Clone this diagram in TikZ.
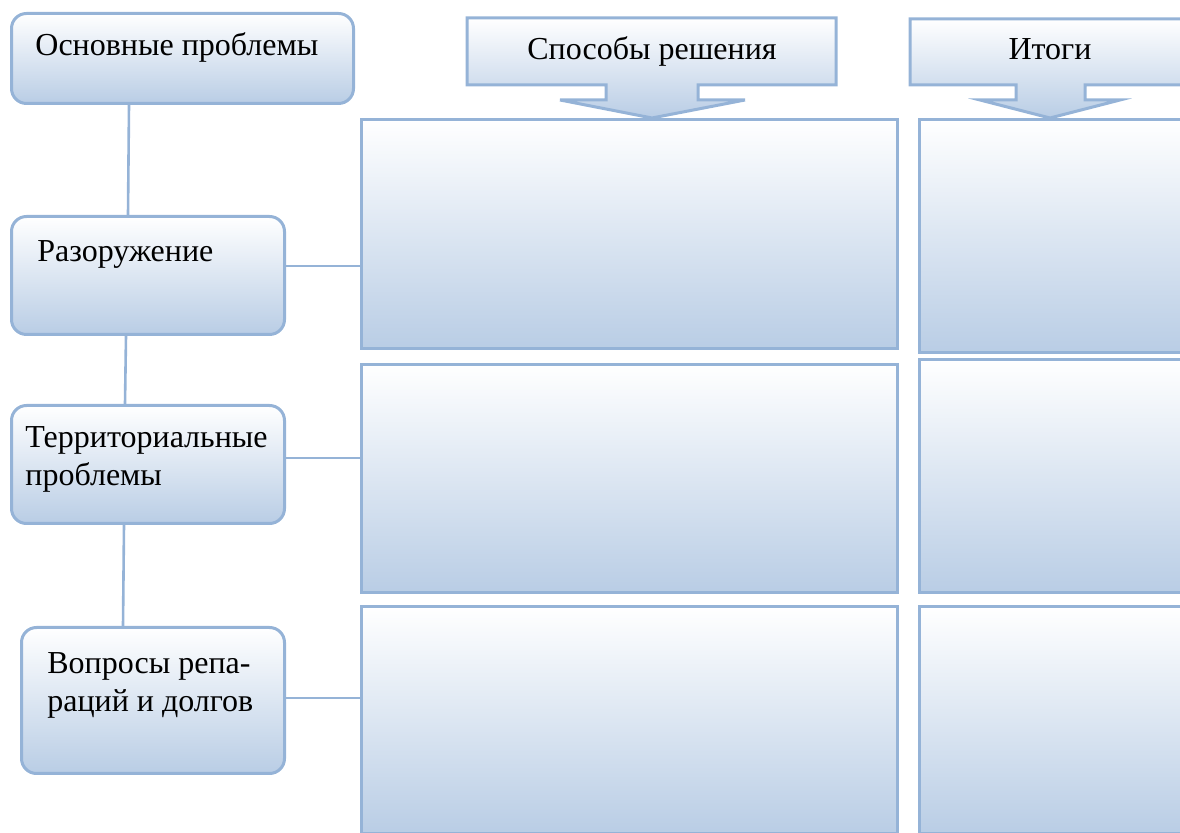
\documentclass[tikz,border=0pt]{standalone}
\usepackage{fontspec}
\setmainfont{Liberation Serif}

\definecolor{boxline}{HTML}{95B3D7}
\definecolor{boxfill}{HTML}{B9CDE5}

\begin{document}
\begin{tikzpicture}[x=0.5pt, y=-0.5pt,
    shadebox/.style={draw=boxline, line width=1.5pt, top color=white, bottom color=boxfill},
    box/.style={shadebox, rounded corners=7.5pt, anchor=north west, inner sep=0pt},
    cell/.style={shadebox, anchor=north west, inner sep=0pt},
    link/.style={draw=boxline, line width=1.3pt},
    txt/.style={font=\fontsize{16}{19}\selectfont, inner sep=0pt, align=left}]
    \useasboundingbox (0,0) rectangle (1180,833);
    \clip (0,0) rectangle (1180,833);

    % Left column
    \node[box, minimum width=171pt, minimum height=45pt] (main) at (10,12) {};
    \node[box, minimum width=136.5pt, minimum height=59pt] (arms) at (10,215) {};
    \node[box, minimum width=136.5pt, minimum height=59pt] (terr) at (10,404) {};
    \node[box, minimum width=131.5pt, minimum height=73pt] (repar) at (20,626) {};

    \node[txt, anchor=base west] (mainlbl) at (35,56) {Основные проблемы};
    \node[txt, anchor=base west] (armslbl) at (37,262) {Разоружение};
    \node[txt, anchor=north west] (terrlbl) at (25,426) {Территориальные\\проблемы};
    \node[txt, anchor=north west] (reparlbl) at (47,652) {Вопросы репа-\\раций и долгов};

    % Middle and right columns
    \foreach \n/\y/\h in {1/118/114.5, 2/363/114, 3/605/113.5} {
      \node[cell, minimum width=268pt, minimum height=\h pt] (way\n) at (360,\y) {};
    }
    \foreach \n/\y/\h in {1/118/116.5, 2/358/116.5, 3/605/113.5} {
      \node[cell, minimum width=140pt, minimum height=\h pt] (res\n) at (918,\y) {};
    }

    % Headers
    \draw[shadebox] (467,18) -- (836,18) -- (836,85) -- (698,85) -- (698,100) -- (745,100)
      -- (652,118) -- (560,100) -- (606,100) -- (606,85) -- (467,85) -- cycle;
    \node[txt, anchor=base] (wayhead) at (652,60) {Способы решения};
    \draw[shadebox] (910,19) -- (1195,19) -- (1195,85) -- (1085,85) -- (1085,100) -- (1120,100)
      -- (1050,118) -- (980,100) -- (1016,100) -- (1016,85) -- (910,85) -- cycle;
    \node[txt, anchor=base] (reshead) at (1050,60) {Итоги};

    % Connectors
    \draw[link] (main.south -| 129,0) -- (arms.north -| 128,0);
    \draw[link] (arms.south -| 126,0) -- (terr.north -| 125,0);
    \draw[link] (terr.south -| 124,0) -- (repar.north -| 123,0);
    \draw[link] (arms.east |- 0,266) -- (way1.west |- 0,266);
    \draw[link] (terr.east |- 0,458) -- (way2.west |- 0,458);
    \draw[link] (repar.east |- 0,698) -- (way3.west |- 0,698);
\end{tikzpicture}
\end{document}
